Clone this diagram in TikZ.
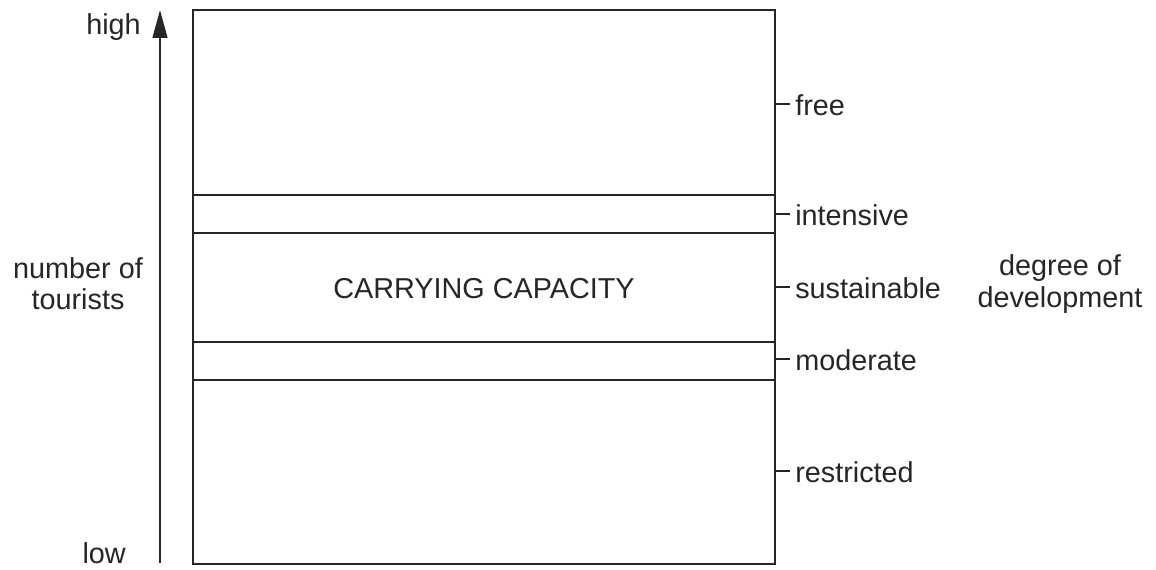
\documentclass[tikz,border=0pt]{standalone}
\usepackage{fontspec}
\setmainfont{Liberation Sans}
\usetikzlibrary{arrows.meta}
\begin{document}
\begin{tikzpicture}[x=0.75pt,y=-0.75pt,
  txt/.style={inner sep=0pt,font=\fontsize{21.6}{23.5}\selectfont,text=black!85},
  lbl/.style={txt,anchor=west},
  ln/.style={line width=1.9pt,draw=black!85},
  tick/.style={ln}]
\useasboundingbox (0,0) rectangle (1156,570);
% box
\draw[ln] (193,10) rectangle (775,564);
\coordinate (l1a) at (193,195); \coordinate (l1b) at (775,195);
\coordinate (l2a) at (193,233); \coordinate (l2b) at (775,233);
\coordinate (l3a) at (193,342); \coordinate (l3b) at (775,342);
\coordinate (l4a) at (193,380); \coordinate (l4b) at (775,380);
\draw[ln] (l1a) -- (l1b);
\draw[ln] (l2a) -- (l2b);
\draw[ln] (l3a) -- (l3b);
\draw[ln] (l4a) -- (l4b);
% arrow
\coordinate (abot) at (160,563);
\coordinate (atop) at (160,10);
\draw[ln,-{Triangle[length=21pt,width=11pt]}] (abot) -- (atop);
\node[txt,anchor=base east] (high) at (141,35) {high};
\node[txt,anchor=base east] (low) at (126,563) {low};
\node[txt,align=center] (nt) at (78,284) {number of\\tourists};
\node[txt,align=center] (dd) at (1060,284) {degree of\\development};
\node[txt] (cc) at (484,289) {CARRYING CAPACITY};
% ticks
\foreach \y/\t/\n in {104/free/f,214/intensive/i,287/sustainable/s,359/moderate/m,471/restricted/r}{
  \coordinate (t\n) at (775,\y);
  \coordinate (te\n) at (790,\y);
  \draw[tick] (t\n) -- (te\n);
  \node[lbl] (n\n) at (795,\y+1) {\t};
}
\end{tikzpicture}
\end{document}
